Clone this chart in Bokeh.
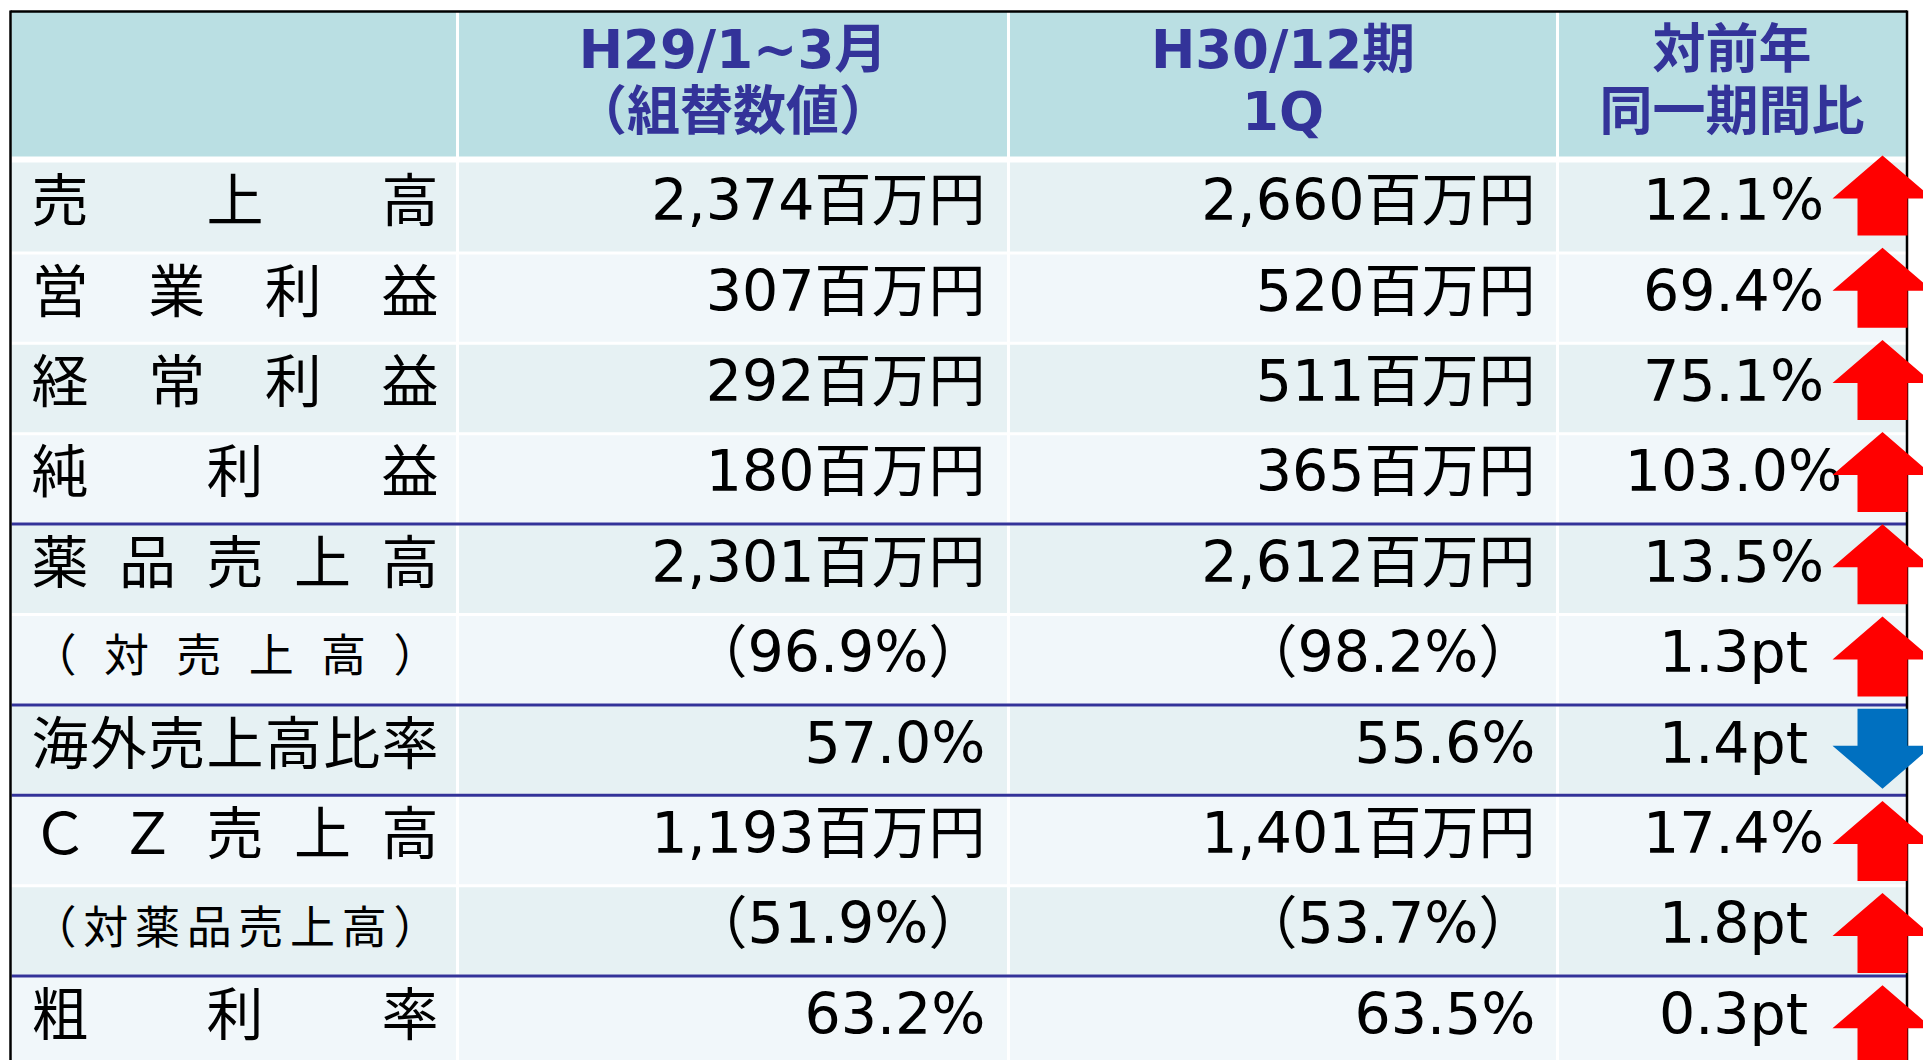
from bokeh.plotting import figure
from bokeh.models import Range1d, ColumnDataSource
from bokeh.core.properties import value
from bokeh.embed import file_html
from bokeh.resources import INLINE

# ---------------- data ----------------
header_top = ["", "H29/1~3月", "H30/12期", "対前年"]
header_bottom = ["", "（組替数値）", "1Q", "同一期間比"]

row_labels = ["売上高", "営業利益", "経常利益", "純利益", "薬品売上高",
              "（対売上高）", "海外売上高比率", "ＣＺ売上高", "（対薬品売上高）", "粗利率"]
label_is_sub = [False, False, False, False, False, True, False, False, True, False]

h29_values = ["2,374百万円", "307百万円", "292百万円", "180百万円", "2,301百万円",
              "（96.9%）", "57.0%", "1,193百万円", "（51.9%）", "63.2%"]
h30_values = ["2,660百万円", "520百万円", "511百万円", "365百万円", "2,612百万円",
              "（98.2%）", "55.6%", "1,401百万円", "（53.7%）", "63.5%"]
yoy_change = ["12.1%", "69.4%", "75.1%", "103.0%", "13.5%",
              "1.3pt", "1.4pt", "17.4%", "1.8pt", "0.3pt"]
yoy_direction = ["up", "up", "up", "up", "up", "up", "down", "up", "up", "up"]

section_breaks = [4, 6, 7, 9]   # rows that start a new group (blue rule above)

# ---------------- layout ----------------
W, H = 1923, 1060
COL_EDGES = [11, 457, 1008, 1557, 1906]
HEAD_TOP, HEAD_BOTTOM = 11, 156
ROW_TOP, ROW_H = 162, 90.4
GAP = 1.5
HEADER_FILL = "#BADFE3"
ROW_FILLS = ["#E6F1F3", "#F1F7FA"]
NAVY = "#333399"
LATIN_CJK = "DejaVu Sans, Noto Sans CJK JP"
CJK = "Noto Sans CJK JP"
BASE_SHIFT = 0.39   # baseline correction (fraction of font size)

p = figure(width=W, height=H, x_range=Range1d(0, W), y_range=Range1d(H, 0),
           output_backend="svg", toolbar_location=None, min_border=0,
           x_axis_location=None, y_axis_location=None)
p.grid.visible = False
p.outline_line_color = None
p.background_fill_color = "white"
p.border_fill_color = "white"

n_cols = len(header_top)
n_rows = len(row_labels)

def col_left(c):
    return COL_EDGES[c] + (GAP if c > 0 else 0)

def col_right(c):
    return COL_EDGES[c + 1] - (GAP if c < n_cols - 1 else 0)

def row_top(i):
    return ROW_TOP + i * ROW_H

# header cells
p.quad(left=[col_left(c) for c in range(n_cols)], right=[col_right(c) for c in range(n_cols)],
       top=[HEAD_TOP] * n_cols, bottom=[HEAD_BOTTOM] * n_cols,
       fill_color=HEADER_FILL, line_color=None)

# body cells
cl, cr, ct, cb, cf = [], [], [], [], []
for i in range(n_rows):
    for c in range(n_cols):
        cl.append(col_left(c))
        cr.append(col_right(c))
        ct.append(row_top(i) + (GAP if i > 0 else 0))
        cb.append(row_top(i + 1) - GAP)
        cf.append(ROW_FILLS[i % 2])
p.quad(source=ColumnDataSource(dict(left=cl, right=cr, top=ct, bottom=cb, fill=cf)),
       left="left", right="right", top="top", bottom="bottom",
       fill_color="fill", line_color=None)

# blue section rules
yb = [row_top(k) for k in section_breaks]
p.segment(x0=[COL_EDGES[0]] * len(yb), x1=[COL_EDGES[-1]] * len(yb), y0=yb, y1=yb,
          line_color=NAVY, line_width=3)

# outer border (left, top, right)
p.multi_line(xs=[[10, 10], [10, 1906.5], [1906.5, 1906.5]],
             ys=[[10, H], [11, 11], [10, H]],
             line_color="black", line_width=2.5)

# header text
HFS = 53
hx = [(COL_EDGES[c] + COL_EDGES[c + 1]) / 2 for c in range(n_cols)]
for texts, base in ((header_top, 70), (header_bottom, 132)):
    p.text(x=hx, y=[base - BASE_SHIFT * HFS] * n_cols, text=texts,
           text_font=value(LATIN_CJK), text_font_size=value(f"{HFS}px"),
           text_font_style="bold", text_color=NAVY,
           text_align="center", text_baseline="alphabetic")

# row labels, distributed across the first column
LBL_X0, LBL_X1 = 31, 438
lx, ly, lt, ls = [], [], [], []
for i, lab in enumerate(row_labels):
    fs = 45 if label_is_sub[i] else 57
    chars = list(lab)
    n = len(chars)
    gap = (LBL_X1 - LBL_X0 - n * fs) / (n - 1) if n > 1 else 0
    for k, ch in enumerate(chars):
        lx.append(LBL_X0 + fs / 2 + k * (fs + gap))
        ly.append(row_top(i) + 56 - BASE_SHIFT * fs)
        lt.append(ch)
        ls.append(f"{fs}px")
p.text(source=ColumnDataSource(dict(x=lx, y=ly, text=lt, size=ls)),
       x="x", y="y", text="text", text_font=value(CJK), text_font_size="size",
       text_color="black", text_align="center", text_baseline="alphabetic")

# values
VFS = 57
vy = [row_top(i) + 60 - BASE_SHIFT * VFS for i in range(n_rows)]
p.text(x=[COL_EDGES[2] - 23] * n_rows, y=vy, text=h29_values,
       text_font=value(LATIN_CJK), text_font_size=value(f"{VFS}px"),
       text_color="black", text_align="right", text_baseline="alphabetic")
p.text(x=[COL_EDGES[3] - 22] * n_rows, y=vy, text=h30_values,
       text_font=value(LATIN_CJK), text_font_size=value(f"{VFS}px"),
       text_color="black", text_align="right", text_baseline="alphabetic")
p.text(x=[(COL_EDGES[3] + COL_EDGES[4]) / 2 + 1.5] * n_rows, y=vy, text=yoy_change,
       text_font=value(LATIN_CJK), text_font_size=value(f"{VFS}px"),
       text_color="black", text_align="center", text_baseline="alphabetic")

# block arrows
ARROW_TOP, ARROW_STEP = 155, 92.2
AX, HEAD_HW, SHAFT_HW, HEAD_H, ARROW_H = 1882, 50, 25, 43, 80
axs, ays, acol = [], [], []
for i, d in enumerate(yoy_direction):
    t = ARROW_TOP + i * ARROW_STEP
    if d == "up":
        xs = [AX, AX + HEAD_HW, AX + SHAFT_HW, AX + SHAFT_HW, AX - SHAFT_HW, AX - SHAFT_HW, AX - HEAD_HW]
        ys = [t, t + HEAD_H, t + HEAD_H, t + ARROW_H, t + ARROW_H, t + HEAD_H, t + HEAD_H]
        acol.append("#FF0000")
    else:
        sb = t + ARROW_H - HEAD_H
        xs = [AX - SHAFT_HW, AX + SHAFT_HW, AX + SHAFT_HW, AX + HEAD_HW, AX, AX - HEAD_HW, AX - SHAFT_HW]
        ys = [t, t, sb, sb, t + ARROW_H, sb, sb]
        acol.append("#0070C0")
    axs.append(xs)
    ays.append(ys)
p.patches(source=ColumnDataSource(dict(xs=axs, ys=ays, color=acol)),
          xs="xs", ys="ys", fill_color="color", line_color=None)

open("out.html", "w").write(file_html(p, INLINE))
